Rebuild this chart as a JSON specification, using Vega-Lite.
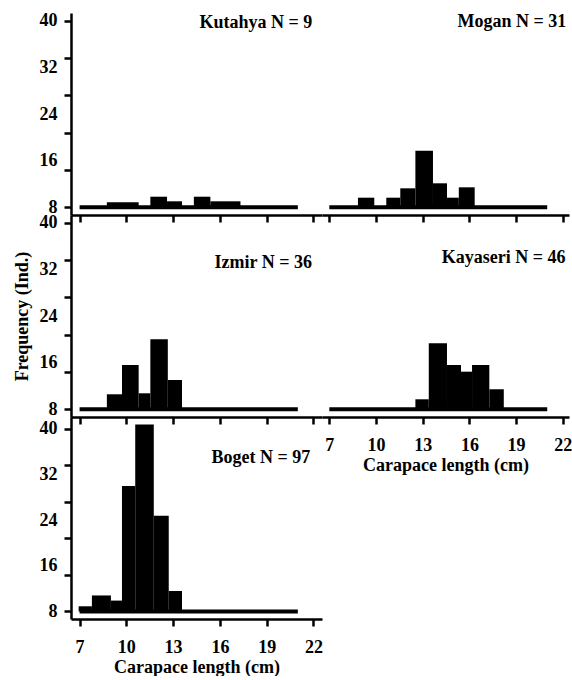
{
  "$schema": "https://vega.github.io/schema/vega-lite/v6.json",
  "padding": {"left": 13, "top": 11, "right": 0, "bottom": 0},
  "config": {
    "font": "Liberation Serif, Times New Roman, serif",
    "view": {"stroke": null},
    "axis": {"domainColor": "black", "domainWidth": 2.5, "tickColor": "black", "tickWidth": 2.5, "tickSize": 7, "labelFont": "Liberation Serif, Times New Roman, serif", "labelFontWeight": "bold", "labelFontSize": 18, "labelColor": "black", "titleFont": "Liberation Serif, Times New Roman, serif", "titleFontWeight": "bold", "titleFontSize": 18, "titleColor": "black", "grid": false},
    "text": {"font": "Liberation Serif, Times New Roman, serif", "fontWeight": "bold", "fontSize": 18, "color": "black", "align": "right", "baseline": "alphabetic"}
  },
  "datasets": {
    "bars": [
      {"site": "Kutahya", "from": 8.75, "to": 10.79, "freq": 8.86},
      {"site": "Kutahya", "from": 11.54, "to": 12.61, "freq": 9.82},
      {"site": "Kutahya", "from": 12.61, "to": 13.57, "freq": 9.03},
      {"site": "Kutahya", "from": 14.33, "to": 15.39, "freq": 9.82},
      {"site": "Kutahya", "from": 15.39, "to": 17.32, "freq": 9.03},
      {"site": "Mogan", "from": 8.84, "to": 9.89, "freq": 9.65},
      {"site": "Mogan", "from": 10.66, "to": 11.56, "freq": 9.65},
      {"site": "Mogan", "from": 11.56, "to": 12.53, "freq": 11.26},
      {"site": "Mogan", "from": 12.53, "to": 13.66, "freq": 17.71},
      {"site": "Mogan", "from": 13.66, "to": 14.56, "freq": 12.12},
      {"site": "Mogan", "from": 14.56, "to": 15.32, "freq": 9.65},
      {"site": "Mogan", "from": 15.32, "to": 16.34, "freq": 11.43},
      {"site": "Izmir", "from": 8.75, "to": 9.72, "freq": 10.58},
      {"site": "Izmir", "from": 9.72, "to": 10.79, "freq": 15.61},
      {"site": "Izmir", "from": 10.79, "to": 11.54, "freq": 10.75},
      {"site": "Izmir", "from": 11.54, "to": 12.66, "freq": 20.03},
      {"site": "Izmir", "from": 12.66, "to": 13.57, "freq": 13.03},
      {"site": "Kayaseri", "from": 12.53, "to": 13.39, "freq": 9.72},
      {"site": "Kayaseri", "from": 13.39, "to": 14.56, "freq": 19.34},
      {"site": "Kayaseri", "from": 14.56, "to": 15.46, "freq": 15.61},
      {"site": "Kayaseri", "from": 15.46, "to": 16.17, "freq": 14.46},
      {"site": "Kayaseri", "from": 16.17, "to": 17.28, "freq": 15.61},
      {"site": "Kayaseri", "from": 17.28, "to": 18.21, "freq": 11.44},
      {"site": "Boget", "from": 6.94, "to": 7.79, "freq": 8.9},
      {"site": "Boget", "from": 7.79, "to": 9.01, "freq": 10.8},
      {"site": "Boget", "from": 9.01, "to": 9.72, "freq": 9.9},
      {"site": "Boget", "from": 9.72, "to": 10.57, "freq": 30.0},
      {"site": "Boget", "from": 10.57, "to": 11.76, "freq": 40.8},
      {"site": "Boget", "from": 11.76, "to": 12.72, "freq": 24.8},
      {"site": "Boget", "from": 12.72, "to": 13.57, "freq": 11.6}
    ],
    "labels": [
      {"site": "Kutahya", "text": "Kutahya N = 9", "lx": 21.93, "ly": 38.86},
      {"site": "Mogan", "text": "Mogan N = 31", "lx": 22.23, "ly": 39.0},
      {"site": "Izmir", "text": "Izmir N = 36", "lx": 21.91, "ly": 32.2},
      {"site": "Kayaseri", "text": "Kayaseri N = 46", "lx": 22.17, "ly": 33.06},
      {"site": "Boget", "text": "Boget N = 97", "lx": 21.8, "ly": 34.08}
    ]
  },
  "columns": 2,
  "spacing": 0,
  "bounds": "flush",
  "concat": [
    {
      "width": 251, "height": 202,
      "resolve": {"axis": {"y": "independent"}},
      "layer": [
        {"data": {"name": "bars"}, "transform": [{"filter": "datum.site === 'Kutahya'"}],
         "mark": {"type": "rect", "color": "black"},
         "encoding": {
           "x": {"field": "from", "type": "quantitative", "scale": {"domain": [6.45, 22.55], "nice": false, "zero": false}, "axis": {"values": [7, 10, 13, 16, 19, 22], "labels": false, "title": null}},
           "x2": {"field": "to"},
           "y": {"field": "freq", "type": "quantitative", "scale": {"domain": [6.68, 41.35], "nice": false, "zero": false}, "axis": {"orient": "left", "values": [8, 16, 24, 32, 40], "ticks": false, "tickSize": 0, "labelPadding": 14, "title": null}},
           "y2": {"datum": 8}
         }},
        {"data": {"values": [{}]}, "mark": {"type": "rule", "color": "black", "strokeWidth": 4},
         "encoding": {
           "x": {"datum": 7, "type": "quantitative", "scale": {"domain": [6.45, 22.55], "nice": false, "zero": false}, "axis": {"values": [7, 10, 13, 16, 19, 22], "labels": false, "title": null}},
           "x2": {"datum": 21},
           "y": {"datum": 8, "type": "quantitative", "scale": {"domain": [6.68, 41.35], "nice": false, "zero": false}, "axis": {"orient": "left", "values": [8, 14.4, 20.8, 27.2, 33.6, 40], "labels": false, "domain": false, "title": null}}
         }},
        {"data": {"name": "labels"}, "transform": [{"filter": "datum.site === 'Kutahya'"}],
         "mark": {"type": "text"},
         "encoding": {
           "x": {"field": "lx", "type": "quantitative", "scale": {"domain": [6.45, 22.55], "nice": false, "zero": false}, "axis": {"values": [7, 10, 13, 16, 19, 22], "labels": false, "title": null}},
           "y": {"field": "ly", "type": "quantitative", "scale": {"domain": [6.68, 41.35], "nice": false, "zero": false}, "axis": null},
           "text": {"field": "text"}
         }}
      ]
    },
    {
      "width": 247, "height": 202,
      "layer": [
        {"data": {"name": "bars"}, "transform": [{"filter": "datum.site === 'Mogan'"}],
         "mark": {"type": "rect", "color": "black"},
         "encoding": {
           "x": {"field": "from", "type": "quantitative", "scale": {"domain": [6.53, 22.4], "nice": false, "zero": false}, "axis": {"values": [7, 10, 13, 16, 19, 22], "labels": false, "title": null}},
           "x2": {"field": "to"},
           "y": {"field": "freq", "type": "quantitative", "scale": {"domain": [6.68, 41.35], "nice": false, "zero": false}, "axis": null},
           "y2": {"datum": 8}
         }},
        {"data": {"values": [{}]}, "mark": {"type": "rule", "color": "black", "strokeWidth": 4},
         "encoding": {
           "x": {"datum": 7, "type": "quantitative", "scale": {"domain": [6.53, 22.4], "nice": false, "zero": false}, "axis": {"values": [7, 10, 13, 16, 19, 22], "labels": false, "title": null}},
           "x2": {"datum": 21},
           "y": {"datum": 8, "type": "quantitative", "scale": {"domain": [6.68, 41.35], "nice": false, "zero": false}, "axis": null}
         }},
        {"data": {"name": "labels"}, "transform": [{"filter": "datum.site === 'Mogan'"}],
         "mark": {"type": "text"},
         "encoding": {
           "x": {"field": "lx", "type": "quantitative", "scale": {"domain": [6.53, 22.4], "nice": false, "zero": false}, "axis": {"values": [7, 10, 13, 16, 19, 22], "labels": false, "title": null}},
           "y": {"field": "ly", "type": "quantitative", "scale": {"domain": [6.68, 41.35], "nice": false, "zero": false}, "axis": null},
           "text": {"field": "text"}
         }}
      ]
    },
    {
      "width": 251, "height": 202,
      "resolve": {"axis": {"y": "independent"}},
      "layer": [
        {"data": {"name": "bars"}, "transform": [{"filter": "datum.site === 'Izmir'"}],
         "mark": {"type": "rect", "color": "black"},
         "encoding": {
           "x": {"field": "from", "type": "quantitative", "scale": {"domain": [6.45, 22.55], "nice": false, "zero": false}, "axis": {"values": [7, 10, 13, 16, 19, 22], "labels": false, "title": null}},
           "x2": {"field": "to"},
           "y": {"field": "freq", "type": "quantitative", "scale": {"domain": [6.68, 41.35], "nice": false, "zero": false}, "axis": {"orient": "left", "values": [8, 16, 24, 32, 40], "ticks": false, "tickSize": 0, "labelPadding": 14, "title": "Frequency (Ind.)", "titlePadding": 8}},
           "y2": {"datum": 8}
         }},
        {"data": {"values": [{}]}, "mark": {"type": "rule", "color": "black", "strokeWidth": 4},
         "encoding": {
           "x": {"datum": 7, "type": "quantitative", "scale": {"domain": [6.45, 22.55], "nice": false, "zero": false}, "axis": {"values": [7, 10, 13, 16, 19, 22], "labels": false, "title": null}},
           "x2": {"datum": 21},
           "y": {"datum": 8, "type": "quantitative", "scale": {"domain": [6.68, 41.35], "nice": false, "zero": false}, "axis": {"orient": "left", "values": [8, 14.4, 20.8, 27.2, 33.6, 40], "labels": false, "domain": false, "title": null}}
         }},
        {"data": {"name": "labels"}, "transform": [{"filter": "datum.site === 'Izmir'"}],
         "mark": {"type": "text"},
         "encoding": {
           "x": {"field": "lx", "type": "quantitative", "scale": {"domain": [6.45, 22.55], "nice": false, "zero": false}, "axis": {"values": [7, 10, 13, 16, 19, 22], "labels": false, "title": null}},
           "y": {"field": "ly", "type": "quantitative", "scale": {"domain": [6.68, 41.35], "nice": false, "zero": false}, "axis": null},
           "text": {"field": "text"}
         }}
      ]
    },
    {
      "width": 247, "height": 202,
      "layer": [
        {"data": {"name": "bars"}, "transform": [{"filter": "datum.site === 'Kayaseri'"}],
         "mark": {"type": "rect", "color": "black"},
         "encoding": {
           "x": {"field": "from", "type": "quantitative", "scale": {"domain": [6.53, 22.4], "nice": false, "zero": false}, "axis": {"values": [7, 10, 13, 16, 19, 22], "labelPadding": 12, "title": "Carapace length (cm)", "titlePadding": 2}},
           "x2": {"field": "to"},
           "y": {"field": "freq", "type": "quantitative", "scale": {"domain": [6.68, 41.35], "nice": false, "zero": false}, "axis": null},
           "y2": {"datum": 8}
         }},
        {"data": {"values": [{}]}, "mark": {"type": "rule", "color": "black", "strokeWidth": 4},
         "encoding": {
           "x": {"datum": 7, "type": "quantitative", "scale": {"domain": [6.53, 22.4], "nice": false, "zero": false}, "axis": {"values": [7, 10, 13, 16, 19, 22], "labelPadding": 12, "title": "Carapace length (cm)", "titlePadding": 2}},
           "x2": {"datum": 21},
           "y": {"datum": 8, "type": "quantitative", "scale": {"domain": [6.68, 41.35], "nice": false, "zero": false}, "axis": null}
         }},
        {"data": {"name": "labels"}, "transform": [{"filter": "datum.site === 'Kayaseri'"}],
         "mark": {"type": "text"},
         "encoding": {
           "x": {"field": "lx", "type": "quantitative", "scale": {"domain": [6.53, 22.4], "nice": false, "zero": false}, "axis": {"values": [7, 10, 13, 16, 19, 22], "labelPadding": 12, "title": "Carapace length (cm)", "titlePadding": 2}},
           "y": {"field": "ly", "type": "quantitative", "scale": {"domain": [6.68, 41.35], "nice": false, "zero": false}, "axis": null},
           "text": {"field": "text"}
         }}
      ]
    },
    {
      "width": 251, "height": 202,
      "resolve": {"axis": {"y": "independent"}},
      "layer": [
        {"data": {"name": "bars"}, "transform": [{"filter": "datum.site === 'Boget'"}],
         "mark": {"type": "rect", "color": "black"},
         "encoding": {
           "x": {"field": "from", "type": "quantitative", "scale": {"domain": [6.45, 22.55], "nice": false, "zero": false}, "axis": {"values": [7, 10, 13, 16, 19, 22], "labelPadding": 12, "title": "Carapace length (cm)", "titlePadding": 2}},
           "x2": {"field": "to"},
           "y": {"field": "freq", "type": "quantitative", "scale": {"domain": [6.67, 42.1], "nice": false, "zero": false}, "axis": {"orient": "left", "values": [8, 16, 24, 32, 40], "ticks": false, "tickSize": 0, "labelPadding": 14, "title": null}},
           "y2": {"datum": 8}
         }},
        {"data": {"values": [{}]}, "mark": {"type": "rule", "color": "black", "strokeWidth": 4},
         "encoding": {
           "x": {"datum": 7, "type": "quantitative", "scale": {"domain": [6.45, 22.55], "nice": false, "zero": false}, "axis": {"values": [7, 10, 13, 16, 19, 22], "labelPadding": 12, "title": "Carapace length (cm)", "titlePadding": 2}},
           "x2": {"datum": 21},
           "y": {"datum": 8, "type": "quantitative", "scale": {"domain": [6.67, 42.1], "nice": false, "zero": false}, "axis": {"orient": "left", "values": [8, 14.4, 20.8, 27.2, 33.6, 40], "labels": false, "domain": false, "title": null}}
         }},
        {"data": {"name": "labels"}, "transform": [{"filter": "datum.site === 'Boget'"}],
         "mark": {"type": "text"},
         "encoding": {
           "x": {"field": "lx", "type": "quantitative", "scale": {"domain": [6.45, 22.55], "nice": false, "zero": false}, "axis": {"values": [7, 10, 13, 16, 19, 22], "labelPadding": 12, "title": "Carapace length (cm)", "titlePadding": 2}},
           "y": {"field": "ly", "type": "quantitative", "scale": {"domain": [6.67, 42.1], "nice": false, "zero": false}, "axis": null},
           "text": {"field": "text"}
         }}
      ]
    }
  ]
}
